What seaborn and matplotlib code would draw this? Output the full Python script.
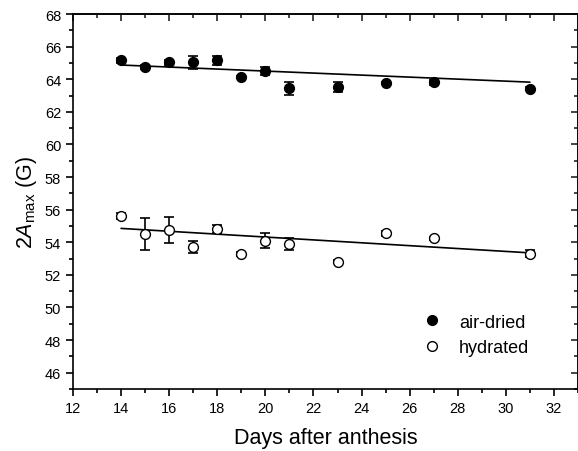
import numpy as np
import pandas as pd
import matplotlib
matplotlib.use("Agg")
import matplotlib.pyplot as plt
import seaborn as sns
from matplotlib.ticker import MultipleLocator
from matplotlib.lines import Line2D

days = [14, 15, 16, 17, 18, 19, 20, 21, 23, 25, 27, 31]
air_dried = [65.15, 64.75, 65.05, 65.05, 65.15, 64.12, 64.5, 63.45, 63.5, 63.75, 63.8, 63.42]
air_err = [0.15, 0.1, 0.15, 0.4, 0.25, 0.05, 0.25, 0.4, 0.3, 0.05, 0.15, 0.1]
hydrated = [55.6, 54.5, 54.75, 53.7, 54.8, 53.28, 54.1, 53.9, 52.8, 54.55, 54.25, 53.3]
hyd_err = [0.2, 0.98, 0.78, 0.38, 0.25, 0.1, 0.45, 0.38, 0.1, 0.15, 0.1, 0.2]

# fitted lines (ends at day 14 and day 31)
fit_days = [14, 31]
air_fit = [64.87, 63.82]
hyd_fit = [54.85, 53.35]

sns.set_theme(style="ticks")
plt.rcParams['font.family'] = ['Liberation Sans', 'DejaVu Sans']
plt.rcParams['mathtext.fontset'] = 'custom'
plt.rcParams['mathtext.rm'] = 'Liberation Sans'
plt.rcParams['mathtext.it'] = 'Liberation Sans:italic'
plt.rcParams['text.color'] = 'black'
plt.rcParams['axes.labelcolor'] = 'black'

fig = plt.figure(figsize=(5.78, 4.52), dpi=100)
ax = fig.add_axes([73/578, 1-390/452, (578-73)/578, (390-15)/452])

df = pd.DataFrame({"days": days, "air": air_dried, "air_err": air_err,
                   "hyd": hydrated, "hyd_err": hyd_err})
fit = pd.DataFrame({"days": fit_days, "air": air_fit, "hyd": hyd_fit})

sns.lineplot(data=fit, x="days", y="air", ax=ax, color="black", lw=1.2)
sns.lineplot(data=fit, x="days", y="hyd", ax=ax, color="black", lw=1.2)

ax.errorbar(df["days"], df["air"], yerr=df["air_err"], fmt="none",
            ecolor="black", elinewidth=1.2, capsize=3.5, capthick=1.2, zorder=3)
ax.errorbar(df["days"], df["hyd"], yerr=df["hyd_err"], fmt="none",
            ecolor="black", elinewidth=1.2, capsize=3.5, capthick=1.2, zorder=3)

sns.scatterplot(data=df, x="days", y="air", ax=ax, marker="o", s=50,
                color="black", edgecolor="black", linewidth=1, zorder=4)
sns.scatterplot(data=df, x="days", y="hyd", ax=ax, marker="o", s=50,
                facecolor="white", edgecolor="black", linewidth=1, zorder=4)

ax.set_xlim(12, 33)
ax.set_ylim(45, 68)
ax.set_xticks(range(12, 33, 2))
ax.set_yticks(range(46, 69, 2))
ax.xaxis.set_minor_locator(MultipleLocator(1))
ax.yaxis.set_minor_locator(MultipleLocator(1))

ax.tick_params(which="both", direction="out", top=False, right=False,
               labelsize=10.5, width=1.2, colors="black")
ax.tick_params(which="major", length=5)
ax.tick_params(which="minor", length=3)
for s in ax.spines.values():
    s.set_linewidth(1.2)
    s.set_color("black")

sec_x = ax.secondary_xaxis("top")
sec_x.set_xticks(range(12, 33, 2))
sec_x.xaxis.set_minor_locator(MultipleLocator(1))
sec_x.tick_params(which="both", direction="in", labeltop=False, width=1.2)
sec_x.tick_params(which="major", length=5)
sec_x.tick_params(which="minor", length=3)
sec_y = ax.secondary_yaxis("right")
sec_y.set_yticks(range(46, 69, 2))
sec_y.yaxis.set_minor_locator(MultipleLocator(1))
sec_y.tick_params(which="both", direction="in", labelright=False, width=1.2)
sec_y.tick_params(which="major", length=5)
sec_y.tick_params(which="minor", length=3)

ax.set_xlabel("Days after anthesis", fontsize=15.5, labelpad=9)
ax.set_ylabel(r"2$\mathit{A}_{\mathrm{max}}$ (G)", fontsize=15.5, labelpad=4)

handles = [Line2D([], [], marker="o", ls="none", color="black", markersize=7),
           Line2D([], [], marker="o", ls="none", markerfacecolor="white",
                  markeredgecolor="black", markersize=7)]
ax.legend(handles, ["air-dried", "hydrated"], loc="lower left",
          bbox_to_anchor=(0.643, 0.045), frameon=False, fontsize=13,
          handletextpad=0.5, labelspacing=0.45)

fig.savefig("out.png", dpi=100)
